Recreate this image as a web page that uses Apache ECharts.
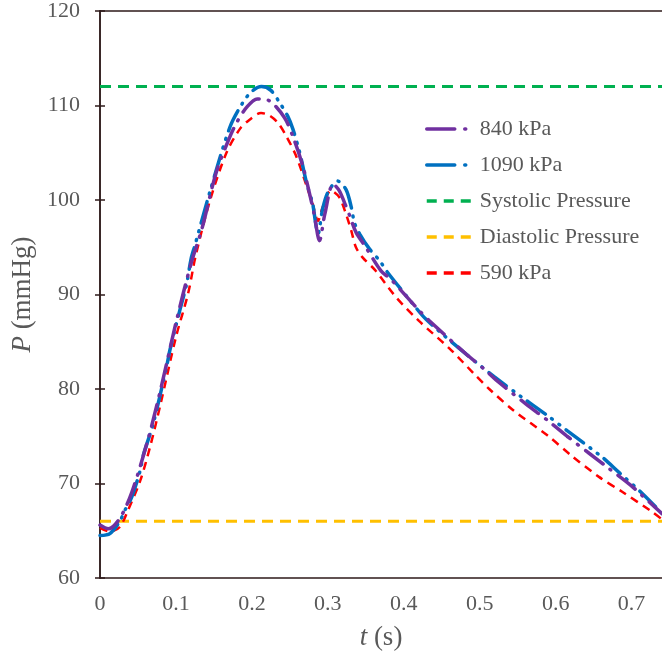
<!DOCTYPE html>
<html>
<head>
<meta charset="utf-8">
<script src="https://cdn.jsdelivr.net/npm/echarts@6/dist/echarts.min.js"></script>
<style>
html,body{margin:0;padding:0;background:#fff;}
#c{width:662px;height:657px;}
</style>
</head>
<body>
<div id="c"></div>
<script>
// Data (t in s, P in mmHg)
const xTicks = [0, 0.1, 0.2, 0.3, 0.4, 0.5, 0.6, 0.7];
const yTicks = [60, 70, 80, 90, 100, 110, 120];
const legendNames = ['840 kPa', '1090 kPa', 'Systolic Pressure', 'Diastolic Pressure', '590 kPa'];

const p840 = [[0,65.6],[0.011,65.2],[0.026,66.3],[0.042,69.1],[0.063,74.6],[0.08,80],[0.1,87],[0.12,93.3],[0.134,96.9],[0.153,102.9],[0.17,106.5],[0.18,108.2],[0.193,109.8],[0.207,110.7],[0.223,110.5],[0.243,108.7],[0.255,106.5],[0.267,103.6],[0.275,101],[0.282,98.5],[0.289,95.7],[0.296,98.5],[0.307,101.7],[0.315,101.0],[0.322,99.7],[0.329,98.3],[0.337,96.6],[0.350,95.0],[0.370,92.5],[0.383,91.6],[0.418,88.5],[0.434,87.2],[0.482,83.7],[0.506,82.1],[0.521,81.0],[0.561,78.4],[0.589,76.7],[0.615,75.0],[0.644,73.2],[0.670,71.6],[0.699,69.8],[0.74,66.8]];

const p1090 = [[0,64.5],[0.013,64.7],[0.026,66.0],[0.033,67.2],[0.042,68.6],[0.053,71.4],[0.057,73.0],[0.070,76.3],[0.088,82.5],[0.092,84.1],[0.105,88.3],[0.114,91.1],[0.120,93.8],[0.125,95.2],[0.1445,100.8],[0.171,107.7],[0.188,110.3],[0.2,111.5],[0.2125,112.0],[0.225,111.6],[0.2365,110.3],[0.247,108.9],[0.254,107.5],[0.263,105.0],[0.272,101.8],[0.280,99.6],[0.284,97.5],[0.287,96.4],[0.293,99.0],[0.300,100.8],[0.313,102.0],[0.324,101.1],[0.331,99.2],[0.335,97.6],[0.342,96.4],[0.355,94.8],[0.368,93.6],[0.379,92.3],[0.410,89.2],[0.429,87.4],[0.473,84.3],[0.519,81.3],[0.556,79.1],[0.589,77.2],[0.615,75.6],[0.661,72.8],[0.683,71.2],[0.712,69.1],[0.738,67.0]];

const p590 = [[0,65.3],[0.013,64.9],[0.026,65.4],[0.037,67.2],[0.053,70.3],[0.066,73.9],[0.08,78.5],[0.1,85.5],[0.116,90.1],[0.126,94.1],[0.145,100],[0.1665,105.0],[0.184,107.5],[0.197,108.5],[0.212,109.2],[0.222,109.0],[0.234,108.2],[0.245,106.8],[0.258,104.7],[0.272,101.5],[0.280,99.6],[0.287,97.8],[0.293,99.2],[0.304,101.0],[0.315,100.3],[0.324,98.5],[0.331,96.7],[0.337,95.0],[0.346,93.9],[0.362,92.6],[0.390,89.7],[0.420,87.2],[0.460,84.3],[0.495,81.4],[0.5125,80.0],[0.545,77.7],[0.589,75.1],[0.620,73.0],[0.657,70.7],[0.688,69.1],[0.727,67.0],[0.74,66.2]];

const systolic = [[0,112],[0.74,112]];
const diastolic = [[0,66],[0.74,66]];

const FONT = "'Liberation Serif','Times New Roman',serif";
const TXT = '#595959';
const AX = '#2e1a1a';

const legendLineTypes = {
  '840 kPa': [28, 10, 1, 20],
  '1090 kPa': [28, 10, 1, 20],
  'Systolic Pressure': [10, 7],
  'Diastolic Pressure': [10, 7],
  '590 kPa': [10, 7]
};

const chart = echarts.init(document.getElementById('c'), null, {renderer:'canvas'});
chart.setOption({
  animation: false,
  backgroundColor: '#fff',
  grid: {left: 100, top: 10, width: 563, bottom: 79, containLabel: false},
  legend: {
    orient: 'vertical', left: 420, top: 113,
    data: legendNames.map(n => ({name: n, lineStyle: {type: legendLineTypes[n], width: 3.5}})),
    itemWidth: 48, itemHeight: 14, itemGap: 14,
    itemStyle: {opacity: 0, color: 'transparent', borderWidth: 0},
    textStyle: {fontFamily: FONT, fontSize: 22, color: TXT}
  },
  xAxis: [{
    type: 'value', min: 0, max: 0.74, interval: 0.1,
    position: 'bottom',
    axisLine: {show: true, lineStyle: {color: AX, width: 1.5}},
    axisTick: {show: false},
    splitLine: {show: false},
    axisLabel: {fontFamily: FONT, fontSize: 22, color: TXT, margin: 15, showMaxLabel: false,
      formatter: v => (xTicks.some(t => Math.abs(t - v) < 1e-9) ? String(+v.toFixed(1)) : '')},
    name: '{i|t} (s)', nameLocation: 'middle', nameGap: 46,
    nameTextStyle: {fontFamily: FONT, fontSize: 27, color: TXT,
      rich: {i: {fontFamily: FONT, fontSize: 27, color: TXT, fontStyle: 'italic'}}}
  }, {
    type: 'value', min: 0, max: 0.74, position: 'top',
    axisLine: {show: true, lineStyle: {color: AX, width: 1.5}},
    axisTick: {show: false}, axisLabel: {show: false}, splitLine: {show: false}
  }],
  yAxis: [{
    type: 'value', min: yTicks[0], max: yTicks[yTicks.length-1], interval: 10,
    axisLine: {show: true, lineStyle: {color: AX, width: 1.5}},
    axisTick: {show: true, inside: true, length: 5, lineStyle: {color: AX, width: 1.5}},
    splitLine: {show: false},
    axisLabel: {fontFamily: FONT, fontSize: 22, color: TXT, margin: 20},
    name: '{i|P} (mmHg)', nameLocation: 'middle', nameGap: 62,
    nameTextStyle: {fontFamily: FONT, fontSize: 27, color: TXT,
      rich: {i: {fontFamily: FONT, fontSize: 27, color: TXT, fontStyle: 'italic'}}}
  }, {
    type: 'value', min: 60, max: 120, interval: 10, position: 'right',
    axisLine: {show: true, lineStyle: {color: AX, width: 1.5}},
    axisTick: {show: true, inside: true, length: 5, lineStyle: {color: AX, width: 1.5}},
    axisLabel: {show: false}, splitLine: {show: false}
  }],
  series: [
    {name: 'Systolic Pressure', type: 'line', data: systolic, symbol: 'none',
      lineStyle: {color: '#00B050', width: 3, type: [11, 7]}, itemStyle: {color: '#00B050'}},
    {name: 'Diastolic Pressure', type: 'line', data: diastolic, symbol: 'none',
      lineStyle: {color: '#FFC000', width: 3, type: [11, 7]}, itemStyle: {color: '#FFC000'}},
    {name: '590 kPa', type: 'line', data: p590, symbol: 'none', smooth: 0.3,
      lineStyle: {color: '#FF0000', width: 2.5, type: [8, 6]}, itemStyle: {color: '#FF0000'}},
    {name: '1090 kPa', type: 'line', data: p1090, symbol: 'none', smooth: 0.3,
      lineStyle: {color: '#0070C0', width: 3.5, type: [22, 8, 1, 8, 1, 8], cap: 'round'}, itemStyle: {color: '#0070C0'}},
    {name: '840 kPa', type: 'line', data: p840, symbol: 'none', smooth: 0.3,
      lineStyle: {color: '#7030A0', width: 3.5, type: [22, 9, 1, 9], cap: 'round'}, itemStyle: {color: '#7030A0'}}
  ]
});
</script>
</body>
</html>
